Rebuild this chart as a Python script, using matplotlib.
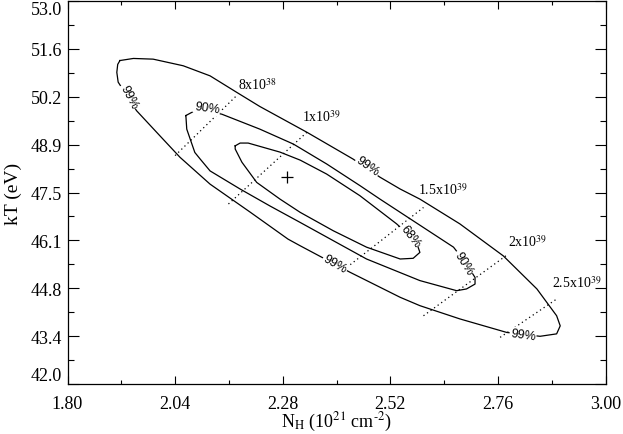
import matplotlib
matplotlib.use('Agg')
import matplotlib.pyplot as plt

plt.rcParams['font.family'] = ['Liberation Serif', 'DejaVu Serif']
plt.rcParams['mathtext.fontset'] = 'stix'

# confidence contours (N_H in 1e21 cm^-2, kT in eV)
c99_nh = [1.917, 1.947, 1.991, 2.058, 2.118, 2.177, 2.229, 2.334, 2.437, 2.497, 2.542, 2.586,
          2.675, 2.772, 2.847, 2.891, 2.899, 2.891, 2.854, 2.780, 2.675, 2.586, 2.542, 2.430,
          2.319, 2.292, 2.207, 2.118, 2.051, 2.006, 1.954, 1.913, 1.910, 1.912, 1.917]
c99_kt = [51.29, 51.35, 51.33, 51.14, 50.85, 50.38, 49.97, 49.23, 48.46, 47.94, 47.60, 47.31,
          46.60, 45.68, 44.73, 43.96, 43.67, 43.44, 43.37, 43.48, 43.87, 44.25, 44.49, 45.21,
          45.97, 46.16, 46.94, 47.74, 48.51, 49.13, 49.85, 50.67, 50.95, 51.18, 51.29]

c90_nh = [2.064, 2.077, 2.109, 2.144, 2.229, 2.304, 2.378, 2.452, 2.497, 2.661, 2.687, 2.709,
          2.709, 2.690, 2.668, 2.586, 2.467, 2.319, 2.252, 2.185, 2.118, 2.096, 2.084, 2.066, 2.064]
c90_kt = [49.71, 49.80, 49.84, 49.75, 49.32, 48.89, 48.32, 47.70, 47.31, 45.93, 45.50, 45.06,
          44.87, 44.73, 44.68, 44.97, 45.59, 46.64, 47.11, 47.60, 48.12, 48.46, 48.65, 49.32, 49.71]

c68_nh = [2.174, 2.185, 2.203, 2.274, 2.319, 2.378, 2.452, 2.534, 2.564, 2.582, 2.586, 2.571,
          2.542, 2.467, 2.393, 2.319, 2.274, 2.222, 2.189, 2.174, 2.174]
c68_kt = [48.84, 48.92, 48.92, 48.66, 48.43, 48.03, 47.41, 46.60, 46.25, 45.93, 45.78, 45.61,
          45.59, 45.93, 46.40, 46.93, 47.31, 47.79, 48.37, 48.75, 48.84]

best_nh, best_kt = 2.29, 47.95

# luminosity lines (erg/s), end points
lum_labels = ['8x10$^{38}$', '1x10$^{39}$', '1.5x10$^{39}$', '2x10$^{39}$', '2.5x10$^{39}$']
lum_nh = [(2.040, 2.177), (2.159, 2.334), (2.423, 2.594), (2.594, 2.783), (2.765, 2.891)]
lum_kt = [(48.56, 50.28), (47.17, 49.23), (45.35, 47.07), (43.96, 45.73), (43.34, 44.44)]
lum_text_nh = [2.180, 2.322, 2.582, 2.783, 2.880]
lum_text_kt = [50.47, 49.56, 47.46, 45.97, 44.78]

# contour level labels
clab_text = ['99%', '90%', '99%', '68%', '90%', '99%', '99%']
clab_nh = [1.936, 2.111, 2.470, 2.564, 2.684, 2.397, 2.816]
clab_kt = [50.24, 49.93, 48.26, 46.25, 45.48, 45.45, 43.41]
clab_rot = [-62, -8, -35, -52, -58, -30, -8]

xticks = [1.80, 2.04, 2.28, 2.52, 2.76, 3.00]
yticks = [42.0, 43.375, 44.75, 46.125, 47.5, 48.875, 50.25, 51.625, 53.0]
ytick_labels = ['42.0', '43.4', '44.8', '46.1', '47.5', '48.9', '50.2', '51.6', '53.0']

fig = plt.figure(figsize=(6.23, 4.35), dpi=100)
ax = fig.add_axes([67.5 / 623, 50 / 435, 538 / 623, 383 / 435])

for nh, kt in [(c99_nh, c99_kt), (c90_nh, c90_kt), (c68_nh, c68_kt)]:
    ax.plot(nh, kt, color='black', lw=0.9)

for lab, nh, kt, tx, ty in zip(lum_labels, lum_nh, lum_kt, lum_text_nh, lum_text_kt):
    ax.plot(nh, kt, color='black', lw=0.9, linestyle=(0, (1, 2.5)))
    ax.text(tx, ty, lab, fontsize=10, ha='left', va='baseline')

for t, x, y, r in zip(clab_text, clab_nh, clab_kt, clab_rot):
    ax.text(x, y, t, fontsize=9, family='Liberation Sans', rotation=r,
            ha='center', va='center',
            bbox=dict(facecolor='white', edgecolor='none', pad=0.6))

ax.plot(best_nh, best_kt, marker='+', color='black', markersize=9, mew=0.9)

ax.set_xlim(1.80, 3.00)
ax.set_ylim(42.0, 53.0)
ax.set_xticks(xticks)
ax.set_xticklabels([f'{v:.2f}' for v in xticks])
ax.set_yticks(yticks)
ax.set_yticklabels(ytick_labels)
ax.set_xticks([1.92, 2.16, 2.40, 2.64, 2.88], minor=True)
ax.set_yticks([42.6875, 44.0625, 45.4375, 46.8125, 48.1875, 49.5625, 50.9375, 52.3125], minor=True)
ax.tick_params(axis='both', which='both', direction='in', top=True, right=True,
               labelsize=13, width=0.8)
ax.tick_params(axis='x', which='major', length=5.5, pad=8)
ax.tick_params(axis='x', which='minor', length=3)
ax.tick_params(axis='y', which='major', length=8, pad=4)
ax.tick_params(axis='y', which='minor', length=4.3)
ylabs = ax.get_yticklabels()
ylabs[0].set_va('bottom')
ylabs[-1].set_va('top')
for s in ax.spines.values():
    s.set_linewidth(0.9)

ax.set_xlabel(r'N$_{\rm H}$ (10$^{21}$ cm$^{\text{-}2}$)', fontsize=13, va='top')
ax.xaxis.set_label_coords(0.5, -0.068)
ax.set_ylabel('kT (eV)', fontsize=14, labelpad=6)

fig.savefig('out.png', dpi=100)
